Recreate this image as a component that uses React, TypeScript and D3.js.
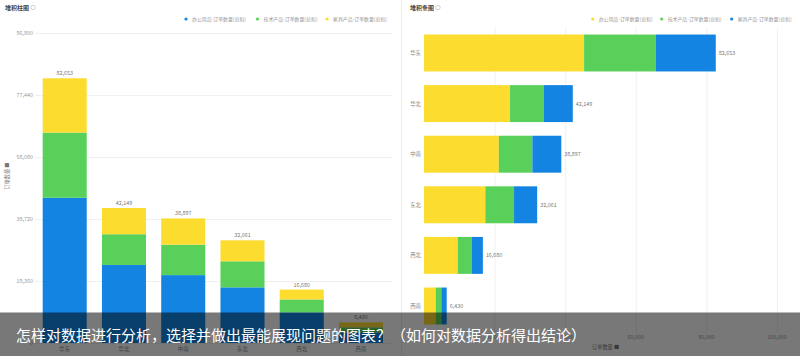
import React, { useEffect, useRef } from 'react';
import * as d3 from 'd3';

const regions = ['华东', '华北', '中南', '东北', '西北', '西南'];
const officeQty = [45350, 24370, 21200, 17380, 9550, 3310];
const techQty = [20350, 9600, 9500, 8130, 4050, 1590];
const furnitureQty = [16953, 8179, 8197, 6551, 3080, 1530];
const seriesNames = ['办公用品-订单数量(总和)', '技术产品-订单数量(总和)', '家具产品-订单数量(总和)'];
const leftTicks = [0, 19360, 38720, 58080, 77440, 96800];
const rightTicks = [0, 20000, 40000, 60000, 80000, 100000];
const caption = '怎样对数据进行分析，选择并做出最能展现问题的图表？（如何对数据分析得出结论）';

const BLUE = '#1384e1';
const GREEN = '#59d05a';
const YELLOW = '#fddc30';
const FONT = '"Noto Sans CJK SC", "Noto Sans", sans-serif';

export default function App() {
  const ref = useRef<SVGSVGElement>(null);

  useEffect(() => {
    const svg = d3.select(ref.current);
    svg.selectAll('*').remove();
    const keys = ['office', 'tech', 'furniture'];
    const rows = regions.map((r, i) => ({
      region: r,
      office: officeQty[i],
      tech: techQty[i],
      furniture: furnitureQty[i],
      total: officeQty[i] + techQty[i] + furnitureQty[i],
    }));
    const stacked = d3.stack<any>().keys(keys)(rows);
    const fmt = d3.format(',');

    svg.append('rect').attr('width', 800).attr('height', 356).attr('fill', '#fff');
    svg.append('line').attr('x1', 401.5).attr('x2', 401.5).attr('y1', 0).attr('y2', 356)
      .attr('stroke', '#ececec');

    // ---------- LEFT: stacked column ----------
    const L = svg.append('g');
    const x = d3.scaleBand().domain(regions).range([35.1, 390.6]).paddingInner(0.257).paddingOuter(0.128);
    const y = d3.scaleLinear().domain([0, 96800]).range([343, 33]);

    L.append('text').attr('x', 5).attr('y', 10).text('堆积柱图')
      .attr('font-size', 6).attr('font-weight', 'bold').attr('fill', '#444').attr('font-family', FONT);
    L.append('circle').attr('cx', 33).attr('cy', 7.5).attr('r', 2.2).attr('fill', 'none').attr('stroke', '#bbb').attr('stroke-width', 0.7);

    const leftColors = [BLUE, GREEN, YELLOW];
    const leftLegendX = [186, 257.5, 327];
    seriesNames.forEach((n, i) => {
      L.append('circle').attr('cx', leftLegendX[i]).attr('cy', 19).attr('r', 1.6).attr('fill', leftColors[i]);
      L.append('text').attr('x', leftLegendX[i] + 6).attr('y', 21).text(n)
        .attr('font-size', 4.9).attr('fill', '#999').attr('font-family', FONT);
    });

    L.selectAll('line.grid').data(leftTicks).join('line')
      .attr('x1', 35).attr('x2', 392)
      .attr('y1', (d) => y(d) + 0.5).attr('y2', (d) => y(d) + 0.5)
      .attr('stroke', '#f0f0f0');
    L.selectAll('text.yt').data(leftTicks).join('text')
      .attr('x', 33).attr('y', (d) => y(d) + 2)
      .attr('text-anchor', 'end').text((d) => fmt(d))
      .attr('font-size', 5.4).attr('fill', '#999').attr('font-family', FONT);
    L.append('text').attr('transform', 'translate(9,176) rotate(-90)')
      .attr('text-anchor', 'middle').text('订单数量 ■')
      .attr('font-size', 5.2).attr('fill', '#777').attr('font-family', FONT);

    stacked.forEach((s, si) => {
      L.selectAll(null).data(s).join('rect')
        .attr('x', (d: any) => x(d.data.region)!)
        .attr('width', x.bandwidth())
        .attr('y', (d: any) => y(d[1]))
        .attr('height', (d: any) => y(d[0]) - y(d[1]))
        .attr('fill', leftColors[si]);
    });
    L.selectAll('text.vl').data(rows).join('text')
      .attr('x', (d) => x(d.region)! + x.bandwidth() / 2)
      .attr('y', (d) => y(d.total) - 3)
      .attr('text-anchor', 'middle').text((d) => fmt(d.total))
      .attr('font-size', 5.4).attr('fill', '#777').attr('font-family', FONT);
    L.selectAll('text.xl').data(regions).join('text')
      .attr('x', (d) => x(d)! + x.bandwidth() / 2).attr('y', 351)
      .attr('text-anchor', 'middle').text((d) => d)
      .attr('font-size', 5.4).attr('fill', '#888').attr('font-family', FONT);

    // ---------- RIGHT: stacked bar ----------
    const R = svg.append('g');
    const yb = d3.scaleBand().domain(regions).range([27.7, 331.3]).paddingInner(0.27).paddingOuter(0.135);
    const xl = d3.scaleLinear().domain([0, 100000]).range([424, 777]);

    R.append('text').attr('x', 410).attr('y', 10).text('堆积条图')
      .attr('font-size', 6).attr('font-weight', 'bold').attr('fill', '#444').attr('font-family', FONT);
    R.append('circle').attr('cx', 438).attr('cy', 7.5).attr('r', 2.2).attr('fill', 'none').attr('stroke', '#bbb').attr('stroke-width', 0.7);

    const rightColors = [YELLOW, GREEN, BLUE];
    const rightLegendX = [592.7, 661.7, 731.7];
    seriesNames.forEach((n, i) => {
      R.append('circle').attr('cx', rightLegendX[i]).attr('cy', 19).attr('r', 1.6).attr('fill', rightColors[i]);
      R.append('text').attr('x', rightLegendX[i] + 6).attr('y', 21).text(n)
        .attr('font-size', 4.9).attr('fill', '#999').attr('font-family', FONT);
    });

    R.selectAll('line.grid').data(rightTicks.slice(1)).join('line')
      .attr('x1', (d) => xl(d) + 0.5).attr('x2', (d) => xl(d) + 0.5)
      .attr('y1', 28).attr('y2', 332)
      .attr('stroke', '#f0f0f0');
    R.selectAll('text.xt').data(rightTicks).join('text')
      .attr('x', (d) => xl(d)).attr('y', 339)
      .attr('text-anchor', 'middle').text((d) => fmt(d))
      .attr('font-size', 5.4).attr('fill', '#999').attr('font-family', FONT);
    R.append('text').attr('x', 592).attr('y', 349).text('订单数量 ■')
      .attr('font-size', 5.2).attr('fill', '#777').attr('font-family', FONT);

    stacked.forEach((s, si) => {
      R.selectAll(null).data(s).join('rect')
        .attr('y', (d: any) => yb(d.data.region)!)
        .attr('height', yb.bandwidth())
        .attr('x', (d: any) => xl(d[0]))
        .attr('width', (d: any) => xl(d[1]) - xl(d[0]))
        .attr('fill', rightColors[si]);
    });
    R.selectAll('text.vl').data(rows).join('text')
      .attr('x', (d) => xl(d.total) + 3)
      .attr('y', (d) => yb(d.region)! + yb.bandwidth() / 2 + 2)
      .text((d) => fmt(d.total))
      .attr('font-size', 5.4).attr('fill', '#777').attr('font-family', FONT);
    R.selectAll('text.yl').data(regions).join('text')
      .attr('x', 421).attr('y', (d) => yb(d)! + yb.bandwidth() / 2 + 2)
      .attr('text-anchor', 'end').text((d) => d)
      .attr('font-size', 5.4).attr('fill', '#888').attr('font-family', FONT);

    // ---------- caption overlay ----------
    svg.append('rect').attr('x', 0).attr('y', 312.5).attr('width', 800).attr('height', 44)
      .attr('fill', 'rgba(0,0,0,0.53)');
    svg.append('text').attr('x', 16).attr('y', 341).text(caption)
      .attr('font-size', 15).attr('fill', '#fff').attr('font-family', FONT);
  }, []);

  return (
    <svg
      ref={ref}
      width={800}
      height={356}
      style={{ position: 'fixed', left: 0, top: 0, display: 'block' }}
    />
  );
}
